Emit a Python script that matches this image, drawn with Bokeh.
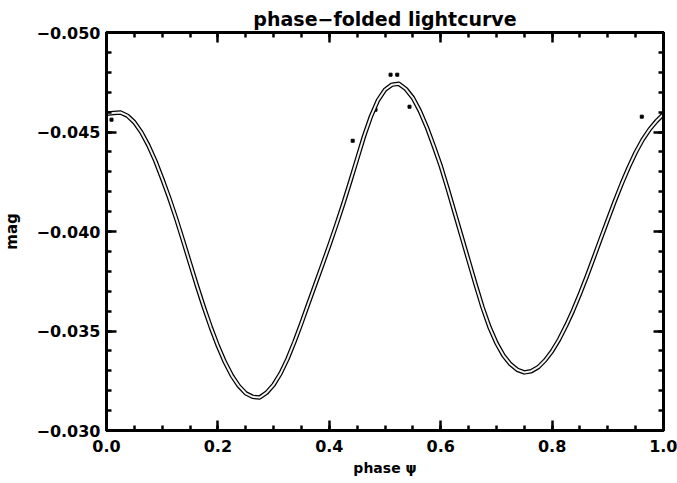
from bokeh.plotting import figure
from bokeh.models import Range1d, LinearAxis, CustomJSTickFormatter, FixedTicker
from bokeh.embed import file_html
from bokeh.resources import INLINE

# phase-folded model
phase = [0.0000, 0.0125, 0.0250, 0.0375, 0.0500, 0.0625, 0.0750, 0.0875, 0.1000, 0.1125,
         0.1250, 0.1375, 0.1500, 0.1625, 0.1750, 0.1875, 0.2000, 0.2125, 0.2250, 0.2375,
         0.2500, 0.2625, 0.2750, 0.2875, 0.3000, 0.3125, 0.3250, 0.3375, 0.3500, 0.3625,
         0.3750, 0.3875, 0.4000, 0.4125, 0.4250, 0.4375, 0.4500, 0.4625, 0.4750, 0.4875,
         0.5000, 0.5125, 0.5250, 0.5375, 0.5500, 0.5625, 0.5750, 0.5875, 0.6000, 0.6125,
         0.6250, 0.6375, 0.6500, 0.6625, 0.6750, 0.6875, 0.7000, 0.7125, 0.7250, 0.7375,
         0.7500, 0.7625, 0.7750, 0.7875, 0.8000, 0.8125, 0.8250, 0.8375, 0.8500, 0.8625,
         0.8750, 0.8875, 0.9000, 0.9125, 0.9250, 0.9375, 0.9500, 0.9625, 0.9750, 0.9875, 1.0000]
mag = [-0.04592, -0.04596, -0.04598, -0.04582, -0.04549, -0.04499, -0.04434, -0.04356, -0.04266, -0.04170,
       -0.04066, -0.03954, -0.03840, -0.03726, -0.03618, -0.03517, -0.03425, -0.03344, -0.03276, -0.03224,
       -0.03187, -0.03169, -0.03166, -0.03190, -0.03230, -0.03287, -0.03360, -0.03446, -0.03540, -0.03638,
       -0.03735, -0.03832, -0.03930, -0.04032, -0.04138, -0.04250, -0.04365, -0.04480, -0.04580, -0.04660,
       -0.04712, -0.04738, -0.04742, -0.04716, -0.04672, -0.04606, -0.04525, -0.04430, -0.04330, -0.04215,
       -0.04095, -0.03975, -0.03855, -0.03735, -0.03620, -0.03520, -0.03440, -0.03378, -0.03334, -0.03305,
       -0.03292, -0.03298, -0.03318, -0.03353, -0.03399, -0.03457, -0.03526, -0.03602, -0.03687, -0.03776,
       -0.03870, -0.03965, -0.04059, -0.04152, -0.04240, -0.04322, -0.04397, -0.04461, -0.04513, -0.04555, -0.04590]

# a few scattered observations standing off the band
obs_phase = [0.009, 0.442, 0.483, 0.510, 0.522, 0.544, 0.961]
obs_mag = [-0.04562, -0.04456, -0.04612, -0.04788, -0.04788, -0.04627, -0.04577]

x_ticks = [0.0, 0.2, 0.4, 0.6, 0.8, 1.0]
y_ticks = [-0.050, -0.045, -0.040, -0.035, -0.030]
x_minor = [i * 0.05 for i in range(21)]
y_minor = [-0.050 + i * 0.001 for i in range(21)]

p = figure(width=677, height=483, output_backend="svg", toolbar_location=None,
           x_range=Range1d(0.0, 1.0), y_range=Range1d(-0.030, -0.050),
           min_border_left=103, min_border_right=14, min_border_top=32, min_border_bottom=53,
           x_axis_type=None, y_axis_type=None)
p.title.text = "phase\u2212folded lightcurve"
p.title.align = "center"
p.title.text_font = "DejaVu Sans"
p.title.text_font_size = "19px"
p.title.text_font_style = "bold"
p.title.text_color = "black"
p.title.offset = 0
p.title.standoff = 6
p.xgrid.visible = False
p.ygrid.visible = False
p.outline_line_color = "black"
p.outline_line_width = 3
p.background_fill_color = "white"
p.border_fill_color = "white"

def style(ax):
    ax.axis_line_width = 3
    ax.major_tick_in = 10
    ax.major_tick_out = 0
    ax.minor_tick_in = 5
    ax.minor_tick_out = 0
    ax.major_tick_line_width = 2.5
    ax.minor_tick_line_width = 2.5
    ax.major_label_text_font = "DejaVu Sans"
    ax.major_label_text_font_style = "bold"
    ax.major_label_text_font_size = "16px"
    ax.major_label_text_color = "black"
    ax.axis_label_text_font = "DejaVu Sans"
    ax.axis_label_text_font_style = "bold"
    ax.axis_label_text_color = "black"

fmt_x = CustomJSTickFormatter(code="return tick.toFixed(1);")
fmt_y = CustomJSTickFormatter(code="return tick.toFixed(3).replace('-', '\u2212');")
blank = CustomJSTickFormatter(code="return '';")

xb = LinearAxis(ticker=FixedTicker(ticks=x_ticks, minor_ticks=x_minor),
                formatter=fmt_x, axis_label="phase \u03c8")
style(xb)
xb.major_label_standoff = 9
xb.axis_label_standoff = 5
xb.axis_label_text_font_size = "14px"
p.add_layout(xb, "below")

xt = LinearAxis(ticker=FixedTicker(ticks=x_ticks, minor_ticks=x_minor), formatter=blank)
style(xt)
xt.major_label_standoff = 0
p.add_layout(xt, "above")

yl = LinearAxis(ticker=FixedTicker(ticks=y_ticks, minor_ticks=y_minor),
                formatter=fmt_y, axis_label="mag")
style(yl)
yl.major_label_standoff = 6
yl.axis_label_standoff = 12
yl.axis_label_text_font_size = "15px"
p.add_layout(yl, "left")

yr = LinearAxis(ticker=FixedTicker(ticks=y_ticks, minor_ticks=y_minor), formatter=blank)
style(yr)
yr.major_label_standoff = 0
p.add_layout(yr, "right")

# data band (black) and fit (white)
p.line(phase, mag, line_color="black", line_width=4.5, line_join="round")
p.scatter(obs_phase, obs_mag, size=3, marker="square", color="black")
p.line(phase, mag, line_color="#f2f2f2", line_width=2, line_join="round")

open("out.html", "w").write(file_html(p, INLINE))
